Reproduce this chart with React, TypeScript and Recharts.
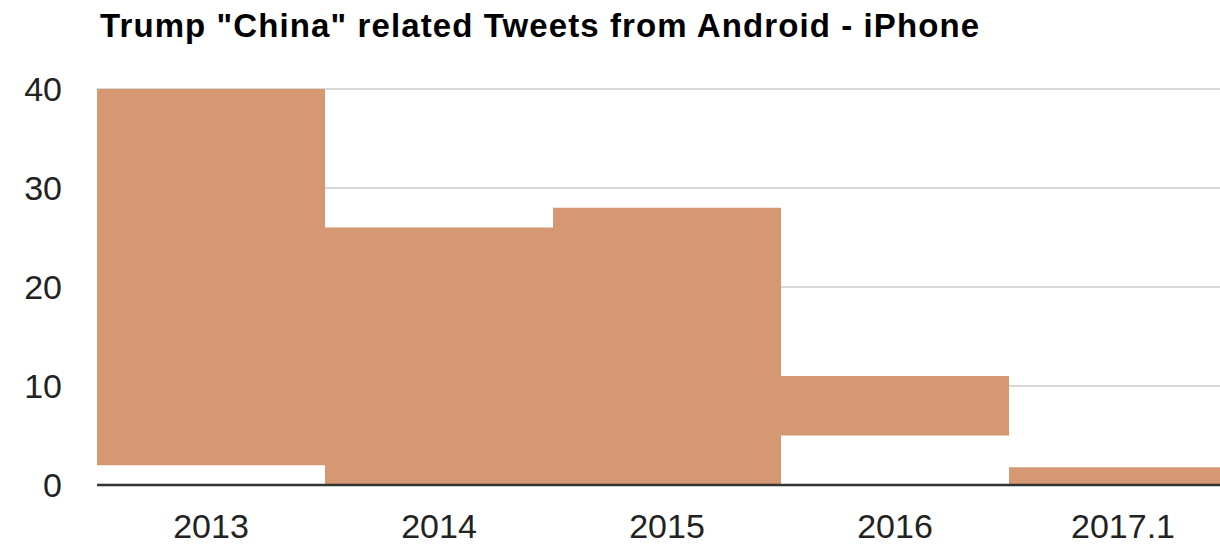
import { BarChart, Bar, XAxis, YAxis, CartesianGrid } from 'recharts';

const years = ['2013', '2014', '2015', '2016', '2017.1'];
const lows = [2, 0, 0, 5, 0];
const highs = [40, 26, 28, 11, 1.8];
const yTicks = [0, 10, 20, 30, 40];

const data = years.map((year, i) => ({ year, range: [lows[i], highs[i]] }));

export default function App() {
  return (
    <div
      style={{
        position: 'absolute',
        left: 0,
        top: 0,
        width: 1220,
        height: 544,
        overflow: 'hidden',
        background: '#fff',
        fontFamily: 'Arial, "Liberation Sans", sans-serif',
      }}
    >
      <div
        style={{
          position: 'absolute',
          left: 100,
          top: 7,
          fontSize: 33,
          lineHeight: 'normal',
          letterSpacing: 1.1,
          fontWeight: 'bold',
          color: '#000',
          whiteSpace: 'nowrap',
        }}
      >
        Trump "China" related Tweets from Android - iPhone
      </div>
      <BarChart
        width={1240}
        height={544}
        data={data}
        margin={{ top: 89, right: 3, left: 0, bottom: 0 }}
        barCategoryGap={0}
      >
        <CartesianGrid vertical={false} stroke="#cccccc" strokeWidth={1.5} />
        <XAxis
          dataKey="year"
          height={59}
          tickLine={false}
          axisLine={{ stroke: '#333', strokeWidth: 2.5 }}
          tickMargin={23}
          tick={{ fontSize: 34, fill: '#222' }}
        />
        <YAxis
          width={97}
          domain={[0, 40]}
          ticks={yTicks}
          axisLine={false}
          tickLine={false}
          tickMargin={29}
          tick={{ fontSize: 34, fill: '#222' }}
        />
        <Bar dataKey="range" fill="#d69873" isAnimationActive={false} />
      </BarChart>
    </div>
  );
}
